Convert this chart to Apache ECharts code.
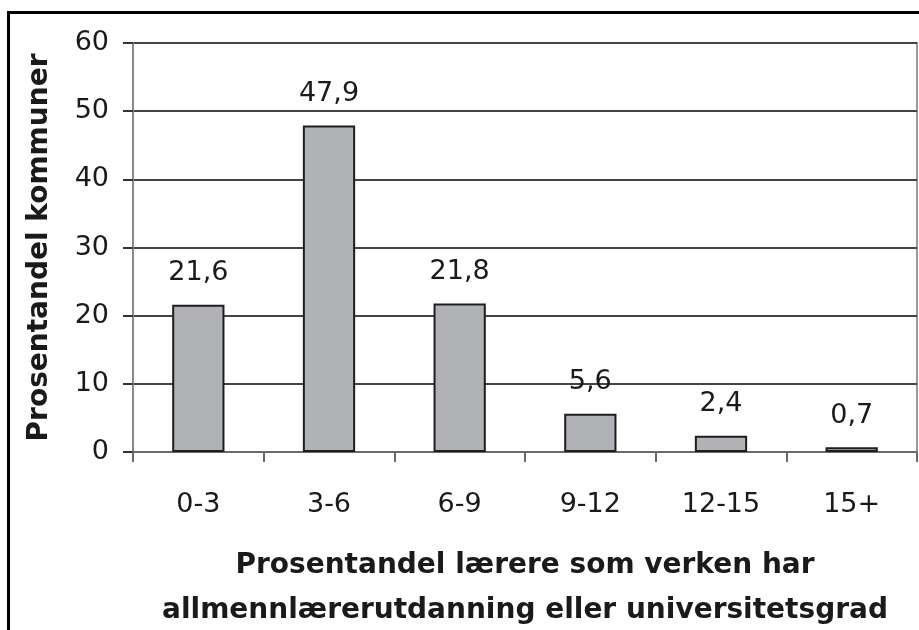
<!DOCTYPE html>
<html>
<head>
<meta charset="utf-8">
<script src="https://cdn.jsdelivr.net/npm/echarts@6/dist/echarts.min.js"></script>
<style>
  html, body { margin: 0; padding: 0; background: #fff; }
  #chart { width: 919px; height: 630px; }
</style>
</head>
<body>
<div id="chart"></div>
<script>
const categories = ['0-3', '3-6', '6-9', '9-12', '12-15', '15+']
const shares = [21.6, 47.9, 21.8, 5.6, 2.4, 0.7]
const yTicks = { min: 0, max: 60, interval: 10 }

const font = '"DejaVu Sans", "Liberation Sans", Arial, sans-serif'
const chart = echarts.init(document.getElementById('chart'))

chart.setOption({
  animation: false,
  textStyle: { fontFamily: font },
  graphic: [
    {
      // black frame, open to the right/bottom like the scan
      type: 'rect',
      shape: { x: 8.5, y: 12.5, width: 1200, height: 1200 },
      style: { fill: 'none', stroke: '#000', lineWidth: 3 },
      silent: true
    }
  ],
  grid: {
    left: 133,
    right: 2,
    top: 43,
    bottom: 178,
    outerBoundsMode: 'none',
    containLabel: false,
    show: true,
    borderColor: '#9a9a9a',
    borderWidth: 2,
    backgroundColor: 'transparent'
  },
  xAxis: {
    type: 'category',
    data: categories,
    name: 'Prosentandel lærere som verken har\nallmennlærerutdanning eller universitetsgrad',
    nameLocation: 'middle',
    nameGap: 91,
    nameTextStyle: {
      fontFamily: font,
      fontSize: 28,
      fontWeight: 'bold',
      color: '#1a1a1a',
      lineHeight: 45
    },
    axisLine: { lineStyle: { color: '#6a6a6a', width: 2 } },
    axisTick: { show: true, length: 10, lineStyle: { color: '#6a6a6a', width: 2 } },
    axisLabel: {
      margin: 39,
      fontSize: 27,
      color: '#1a1a1a',
      fontFamily: font
    }
  },
  yAxis: {
    type: 'value',
    min: yTicks.min,
    max: yTicks.max,
    interval: yTicks.interval,
    name: 'Prosentandel kommuner',
    nameLocation: 'middle',
    nameGap: 79,
    nameTextStyle: {
      fontFamily: font,
      fontSize: 28,
      fontWeight: 'bold',
      color: '#1a1a1a'
    },
    axisLine: { show: true, lineStyle: { color: '#8a8a8a', width: 2 } },
    axisTick: { show: true, length: 10, lineStyle: { color: '#333', width: 2 } },
    axisLabel: {
      margin: 24,
      fontSize: 27,
      color: '#1a1a1a',
      fontFamily: font
    },
    splitLine: { lineStyle: { color: '#444', width: 2 } }
  },
  series: [
    {
      type: 'bar',
      data: shares,
      barWidth: '40%',
      itemStyle: {
        color: '#b1b2b6',
        borderColor: '#1e1e1e',
        borderWidth: 2
      },
      label: {
        show: true,
        position: 'top',
        distance: 18,
        fontSize: 27,
        color: '#1a1a1a',
        fontFamily: font,
        formatter: p => String(p.value).replace('.', ',')
      }
    }
  ]
})
</script>
</body>
</html>
